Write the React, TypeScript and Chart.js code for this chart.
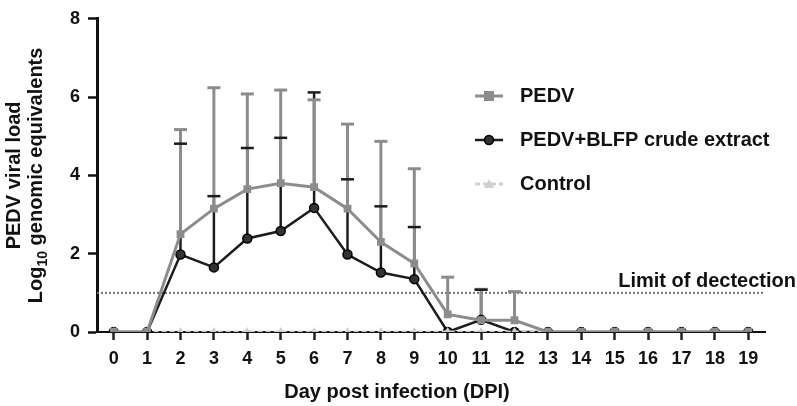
import React, { useEffect, useRef } from 'react';
import { Chart, registerables } from 'chart.js';

Chart.register(...registerables);

// ---------- data ----------
const days = ['0', '1', '2', '3', '4', '5', '6', '7', '8', '9', '10', '11', '12', '13', '14', '15', '16', '17', '18', '19'];
const pedvMean = [0, 0, 2.5, 3.15, 3.65, 3.8, 3.7, 3.15, 2.3, 1.75, 0.45, 0.3, 0.3, 0, 0, 0, 0, 0, 0, 0];
const pedvSD = [0, 0, 2.67, 3.09, 2.43, 2.38, 2.23, 2.16, 2.57, 2.42, 0.95, 0.79, 0.73, 0, 0, 0, 0, 0, 0, 0];
const blfpMean = [0, 0, 1.98, 1.65, 2.39, 2.58, 3.17, 1.98, 1.52, 1.35, 0, 0.31, 0, 0, 0, 0, 0, 0, 0, 0];
const blfpSD = [0, 0, 2.83, 1.82, 2.31, 2.38, 2.95, 1.92, 1.69, 1.33, 0, 0.77, 0, 0, 0, 0, 0, 0, 0, 0];
const controlMean = [0, 0, 0, 0, 0, 0, 0, 0, 0, 0, 0, 0, 0, 0, 0, 0, 0, 0, 0, 0];
const seriesNames = ['PEDV', 'PEDV+BLFP crude extract', 'Control'];
const yMin = 0;
const yMax = 8;
const yStep = 2;
const limitOfDetection = 1;
const limitLabel = 'Limit of dectection';
const xTitle = 'Day post infection (DPI)';
const yTitleLine1 = 'PEDV viral load';
const yTitleLine2 = ['Log', '10', ' genomic equivalents'];

// ---------- style ----------
const FONT = '"Liberation Sans", Arial, sans-serif';
const GRAY = '#8c8c8c';
const BLACK = '#1c1c1c';
const LIGHT = '#cfcfcf';
const TEXT = '#111111';

function drawMarker(ctx: CanvasRenderingContext2D, kind: string, x: number, y: number) {
  ctx.save();
  ctx.setLineDash([]);
  if (kind === 'rect') {
    ctx.fillStyle = GRAY;
    ctx.fillRect(x - 5, y - 5, 10, 10);
  } else if (kind === 'circle') {
    ctx.fillStyle = '#333';
    ctx.strokeStyle = '#000';
    ctx.lineWidth = 1.5;
    ctx.beginPath();
    ctx.arc(x, y, 4.5, 0, Math.PI * 2);
    ctx.fill();
    ctx.stroke();
  } else {
    ctx.fillStyle = LIGHT;
    ctx.beginPath();
    ctx.moveTo(x, y - 5);
    ctx.lineTo(x + 5, y + 4);
    ctx.lineTo(x - 5, y + 4);
    ctx.closePath();
    ctx.fill();
  }
  ctx.restore();
}

const decorPlugin = {
  id: 'decor',
  beforeDatasetsDraw(chart: any) {
    const { ctx, chartArea, scales } = chart;
    const y = scales.y;
    // limit of detection line
    const ly = y.getPixelForValue(limitOfDetection);
    ctx.save();
    ctx.strokeStyle = '#6e6e6e';
    ctx.lineWidth = 2;
    ctx.setLineDash([2, 2]);
    ctx.beginPath();
    ctx.moveTo(chartArea.left, ly);
    ctx.lineTo(chartArea.right, ly);
    ctx.stroke();
    ctx.restore();

    // error bars (upper only): black stems, then gray stems, then caps
    const specs = [
      { idx: 2, mean: blfpMean, sd: blfpSD, color: BLACK, width: 2.5 },
      { idx: 0, mean: pedvMean, sd: pedvSD, color: GRAY, width: 3 },
    ];
    const caps: any[] = [];
    for (const s of specs) {
      const meta = chart.getDatasetMeta(s.idx);
      ctx.save();
      ctx.strokeStyle = s.color;
      ctx.lineWidth = s.width;
      ctx.setLineDash([]);
      for (let i = 0; i < s.mean.length; i++) {
        if (!(s.sd[i] > 0)) continue;
        const pt = meta.data[i];
        const top = y.getPixelForValue(s.mean[i] + s.sd[i]);
        ctx.beginPath();
        ctx.moveTo(pt.x, pt.y);
        ctx.lineTo(pt.x, top);
        ctx.stroke();
        caps.push({ x: pt.x, y: top, color: s.color, width: s.width });
      }
      ctx.restore();
    }
    ctx.save();
    ctx.setLineDash([]);
    for (const c of [...caps].reverse()) {
      ctx.strokeStyle = c.color;
      ctx.lineWidth = c.width;
      ctx.beginPath();
      ctx.moveTo(c.x - 6.5, c.y);
      ctx.lineTo(c.x + 6.5, c.y);
      ctx.stroke();
    }
    ctx.restore();
  },
  afterDraw(chart: any) {
    const { ctx, chartArea, scales } = chart;
    const y = scales.y;
    ctx.save();
    ctx.fillStyle = TEXT;

    // limit label
    ctx.font = `bold 20px ${FONT}`;
    ctx.textAlign = 'right';
    ctx.textBaseline = 'alphabetic';
    ctx.fillText(limitLabel, chartArea.right + 31, y.getPixelForValue(limitOfDetection) - 6);

    // x title
    ctx.textAlign = 'center';
    ctx.fillText(xTitle, chartArea.left + 300, 398);

    // y title (rotated)
    const cy = (chartArea.top + chartArea.bottom) / 2;
    ctx.save();
    ctx.translate(20, cy);
    ctx.rotate(-Math.PI / 2);
    ctx.textAlign = 'center';
    ctx.font = `bold 20px ${FONT}`;
    ctx.fillText(yTitleLine1, 0, 0);
    ctx.restore();

    ctx.save();
    ctx.translate(42, cy);
    ctx.rotate(-Math.PI / 2);
    ctx.textAlign = 'left';
    const mainFont = `bold 20px ${FONT}`;
    const subFont = `bold 14px ${FONT}`;
    ctx.font = mainFont;
    const w0 = ctx.measureText(yTitleLine2[0]).width;
    const w2 = ctx.measureText(yTitleLine2[2]).width;
    ctx.font = subFont;
    const w1 = ctx.measureText(yTitleLine2[1]).width;
    let x0 = -(w0 + w1 + w2) / 2;
    ctx.font = mainFont;
    ctx.fillText(yTitleLine2[0], x0, 0);
    x0 += w0;
    ctx.font = subFont;
    ctx.fillText(yTitleLine2[1], x0, 5);
    x0 += w1;
    ctx.font = mainFont;
    ctx.fillText(yTitleLine2[2], x0, 0);
    ctx.restore();

    // legend
    const legend = [
      { name: seriesNames[0], color: GRAY, width: 3, dash: [] as number[], marker: 'rect' },
      { name: seriesNames[1], color: BLACK, width: 2.5, dash: [] as number[], marker: 'circle' },
      { name: seriesNames[2], color: LIGHT, width: 3, dash: [5, 3], marker: 'triangle' },
    ];
    const lx0 = 475;
    const lx1 = 503;
    legend.forEach((item, k) => {
      const ry = 96 + k * 44;
      ctx.save();
      ctx.strokeStyle = item.color;
      ctx.lineWidth = item.width;
      ctx.setLineDash(item.dash);
      ctx.beginPath();
      ctx.moveTo(lx0, ry);
      ctx.lineTo(lx1, ry);
      ctx.stroke();
      ctx.restore();
      drawMarker(ctx, item.marker, (lx0 + lx1) / 2, ry);
      ctx.fillStyle = TEXT;
      ctx.font = `bold 20px ${FONT}`;
      ctx.textAlign = 'left';
      ctx.textBaseline = 'middle';
      ctx.fillText(item.name, 520, ry);
    });
    ctx.restore();
  },
};

export default function App() {
  const ref = useRef<HTMLCanvasElement | null>(null);
  useEffect(() => {
    document.body.style.margin = '0';
    const canvas = ref.current;
    if (!canvas) return;
    const chart = new Chart(canvas, {
      type: 'line',
      data: {
        labels: days,
        datasets: [
          {
            label: seriesNames[0],
            data: pedvMean,
            borderColor: GRAY,
            backgroundColor: GRAY,
            borderWidth: 3,
            pointStyle: 'rect',
            pointRadius: 5.5,
            pointBorderWidth: 0,
            pointBackgroundColor: GRAY,
            order: 0,
          },
          {
            label: seriesNames[2],
            data: controlMean,
            borderColor: LIGHT,
            backgroundColor: LIGHT,
            borderWidth: 3,
            borderDash: [5, 3],
            pointStyle: 'triangle',
            pointRadius: 5,
            pointBorderWidth: 0,
            pointBackgroundColor: LIGHT,
            order: 1,
          },
          {
            label: seriesNames[1],
            data: blfpMean,
            borderColor: BLACK,
            backgroundColor: '#333',
            borderWidth: 2.5,
            pointStyle: 'circle',
            pointRadius: 4.5,
            pointBorderWidth: 1.5,
            pointBorderColor: '#000',
            pointBackgroundColor: '#333',
            order: 2,
          },
        ],
      },
      options: {
        responsive: false,
        animation: false,
        devicePixelRatio: 1,
        layout: { padding: { top: 10, right: 32, left: 0, bottom: 0 } },
        plugins: { legend: { display: false }, tooltip: { enabled: false } },
        scales: {
          x: {
            type: 'category',
            offset: true,
            grid: {
              display: true,
              drawOnChartArea: false,
              drawTicks: true,
              tickLength: 8,
              tickWidth: 2.5,
              tickColor: '#222',
              offset: false,
            },
            border: { display: true, color: '#111', width: 2 },
            ticks: {
              color: TEXT,
              font: { family: FONT, size: 18, weight: 'bold' },
              padding: 8,
              maxRotation: 0,
              autoSkip: false,
            },
            afterFit: (s: any) => {
              s.height = 74;
            },
          },
          y: {
            min: yMin,
            max: yMax,
            ticks: {
              stepSize: yStep,
              color: TEXT,
              font: { family: FONT, size: 18, weight: 'bold' },
              padding: 8,
            },
            grid: {
              display: true,
              drawOnChartArea: false,
              drawTicks: true,
              tickLength: 9,
              tickWidth: 2.5,
              tickColor: '#111',
            },
            border: { display: true, color: '#111', width: 3 },
            afterFit: (s: any) => {
              s.width = 97;
            },
          },
        },
      },
      plugins: [decorPlugin],
    } as any);
    return () => chart.destroy();
  }, []);
  return <canvas ref={ref} width={797} height={406} style={{ display: 'block', width: 797, height: 406 }} />;
}
